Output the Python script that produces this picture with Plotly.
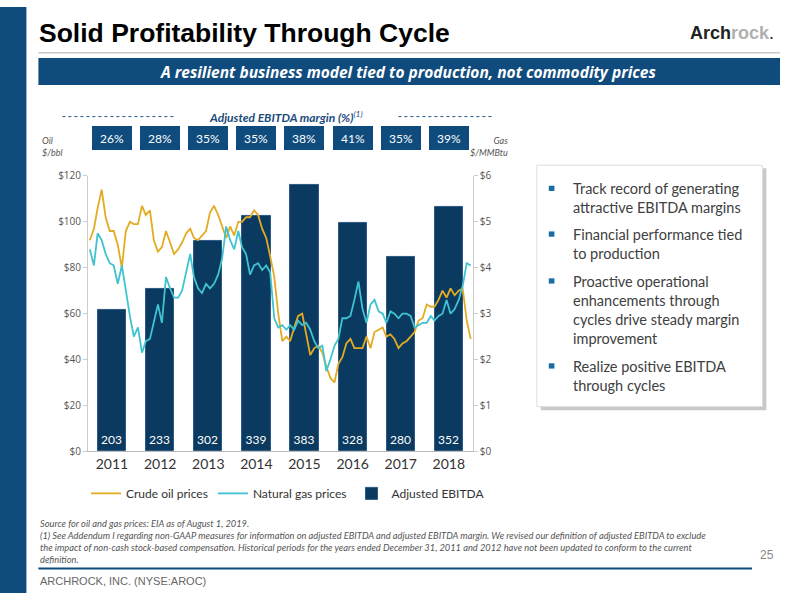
import plotly.graph_objects as go
import pandas as pd

years = [2011, 2012, 2013, 2014, 2015, 2016, 2017, 2018]
ebitda = [203, 233, 302, 339, 383, 328, 280, 352]
margins = ["26%", "28%", "35%", "35%", "38%", "41%", "35%", "39%"]

# monthly prices, Jan 2011 - Dec 2018
oil = [92, 97, 106, 114, 102, 96, 96, 90, 80, 96, 100, 99,
       99, 107, 103, 105, 92, 87, 89, 96, 91, 86, 88, 91,
       95, 97, 93, 92, 94, 96, 104, 107, 103, 98, 93, 98,
       94, 100, 100, 102, 102, 105, 103, 97, 93, 85, 76, 60,
       48, 50, 48, 54, 59, 60, 51, 42, 45, 46, 43, 37,
       32, 30, 38, 41, 47, 49, 45, 45, 45, 50, 45, 52,
       53, 54, 50, 51, 49, 45, 47, 48, 50, 52, 57, 58,
       64, 63, 63, 66, 70, 67, 71, 68, 70, 71, 57, 49]
gas = [4.4, 4.05, 4.75, 4.6, 4.3, 4.1, 4.05, 3.65, 4.05, 3.5, 2.95, 2.5,
       2.7, 2.15, 2.4, 2.45, 2.85, 3.2, 2.8, 3.8, 3.55, 3.35, 3.35, 3.5,
       3.9, 4.3, 3.8, 3.55, 3.45, 3.65, 3.55, 3.65, 3.85, 4.2, 4.9, 4.6,
       4.4, 4.8, 4.45, 4.3, 3.85, 4.05, 4.1, 3.95, 4.05, 3.9, 2.9, 2.7,
       2.75, 2.65, 2.75, 2.65, 2.85, 2.75, 2.8, 2.65, 2.4, 2.25, 2.3, 1.75,
       2.0, 2.3, 2.45, 2.9, 2.9, 2.95, 3.3, 3.7, 3.1, 2.8, 3.2, 3.3,
       3.05, 3.0, 2.8, 3.05, 3.0, 2.9, 3.0, 3.0, 2.95, 2.7, 2.75, 2.8,
       2.8, 2.95, 2.85, 2.95, 3.0, 3.3, 3.0, 3.1, 3.3, 3.6, 4.1, 4.05]

months = pd.date_range("2011-01-01", periods=len(oil), freq="MS") + pd.Timedelta(days=14)
bar_x = [pd.Timestamp(f"{y}-07-02") for y in years]

NAVY = "#0b3a60"
GOLD = "#e3ab22"
TEAL = "#3fc3cf"
BLUE = "#0f4c7d"

fig = go.Figure()
fig.add_trace(go.Bar(
    x=bar_x, y=ebitda, name="Adjusted EBITDA", legendrank=3,
    width=215 * 86400000, marker=dict(color=NAVY, line=dict(color="#2a5a85", width=1)),
    text=[str(v) for v in ebitda], textposition="inside", insidetextanchor="start",
    textfont=dict(color="white", size=12, family="Lato"), textangle=0,
))
fig.add_trace(go.Scatter(x=months, y=oil, name="Crude oil prices", mode="lines",
                         yaxis="y2", legendrank=1, line=dict(color=GOLD, width=1.8)))
fig.add_trace(go.Scatter(x=months, y=gas, name="Natural gas prices", mode="lines",
                         yaxis="y3", legendrank=2, line=dict(color=TEAL, width=1.8)))

tickfont = dict(family="Open Sans", size=10, color="#555555")
fig.update_layout(
    width=800, height=600, autosize=False,
    margin=dict(l=0, r=0, t=0, b=0),
    paper_bgcolor="white", plot_bgcolor="rgba(0,0,0,0)", bargap=0,
    font=dict(family="Lato"),
    xaxis=dict(domain=[0.11, 0.591], range=["2011-01-01", "2018-12-31"],
               tickvals=bar_x, ticktext=[str(y) for y in years],
               tickfont=dict(family="Lato", size=14, color="#333333"),
               showline=True, linecolor="#bbbbbb", showgrid=False, ticks=""),
    yaxis=dict(domain=[0.2417, 0.7117], range=[0, 396], visible=False),
    yaxis2=dict(overlaying="y", side="left", range=[0, 120], dtick=20, tickprefix="$",
                tickfont=tickfont, showline=True, linecolor="#cccccc", showgrid=False,
                ticks="outside", ticklen=4, tickcolor="#cccccc", zeroline=False),
    yaxis3=dict(overlaying="y", side="right", range=[0, 6], dtick=1, tickprefix="$",
                tickfont=tickfont, showline=True, linecolor="#cccccc", showgrid=False,
                ticks="outside", ticklen=4, tickcolor="#cccccc", zeroline=False),
    legend=dict(orientation="h", x=0.36, y=0.17, xanchor="center", yanchor="middle",
                font=dict(family="Lato", size=12, color="#333333")),
)

# slide decoration
shapes = [
    dict(type="rect", x0=0, x1=0.033, y0=0, y1=1, fillcolor="#0f4c7d", line_width=0),
    dict(type="line", x0=0.048, x1=0.975, y0=0.922, y1=0.922,
         line=dict(color="#c8c8c8", width=1.5)),
    dict(type="rect", x0=0.048, x1=0.975, y0=0.867, y1=0.913, fillcolor=BLUE, line_width=0),
    dict(type="line", x0=0.078, x1=0.218, y0=0.813, y1=0.813,
         line=dict(color="#1f5a8c", width=1, dash="dot")),
    dict(type="line", x0=0.498, x1=0.616, y0=0.813, y1=0.813,
         line=dict(color="#1f5a8c", width=1, dash="dot")),
    dict(type="rect", x0=0.676, x1=0.958, y0=0.312, y1=0.725, fillcolor="#c9c9c9", line_width=0),
    dict(type="rect", x0=0.671, x1=0.953, y0=0.318, y1=0.73,
         fillcolor="white", line=dict(color="#dddddd", width=1)),
    dict(type="line", x0=0.048, x1=0.94, y0=0.042, y1=0.042,
         line=dict(color="#0f4c7d", width=2)),
]
anns = [
    dict(x=0.046, y=0.955, text="<b>Solid Profitability Through Cycle</b>", xanchor="left",
         font=dict(family="Liberation Sans", size=26.5, color="black")),
    dict(x=0.97, y=0.955, text="<b>Arch<span style='color:#b0b0b0'>rock</span></b>.",
         xanchor="right", font=dict(family="Liberation Sans", size=18, color="#222222")),
    dict(x=0.51, y=0.889, text="<b><i>A resilient business model tied to production, not commodity prices</i></b>",
         font=dict(family="Open Sans", size=15.5, color="white")),
    dict(x=0.357, y=0.813, text="<b><i>Adjusted EBITDA margin (%)</i></b><sup><i>(1)</i></sup>",
         font=dict(family="Lato", size=12, color="#1a4c7c")),
    dict(x=0.05, y=0.762, text="<i>Oil<br>$/bbl</i>", xanchor="left", align="left",
         font=dict(family="Lato", size=9, color="#555555")),
    dict(x=0.638, y=0.762, text="<i>Gas<br>$/MMBtu</i>", xanchor="right", align="right",
         font=dict(family="Lato", size=9, color="#555555")),
]
for bx, m in zip(bar_x, margins):
    anns.append(dict(x=bx, xref="x", y=0.777, text=m, bgcolor=BLUE, borderpad=4,
                     bordercolor=BLUE, font=dict(family="Lato", size=12, color="white"),
                     width=30, height=14))

bullets = [
    (0.708, "Track record of generating<br>attractive EBITDA margins"),
    (0.630, "Financial performance tied<br>to production"),
    (0.550, "Proactive operational<br>enhancements through<br>cycles drive steady margin<br>improvement"),
    (0.405, "Realize positive EBITDA<br>through cycles"),
]
for yy, txt in bullets:
    anns.append(dict(x=0.714, y=yy, text=txt, xanchor="left", yanchor="top", align="left",
                     font=dict(family="Lato", size=14.5, color="#404040")))
    shapes.append(dict(type="rect", x0=0.686, x1=0.693,
                       y0=yy - 0.022, y1=yy - 0.013, fillcolor="#1a6aa6", line_width=0))
for s in shapes:
    s["xref"] = "paper"
    s["yref"] = "paper"
    s["layer"] = "below"

anns += [
    dict(x=0.048, y=0.132, xanchor="left", yanchor="top", align="left",
         text="<i>Source for oil and gas prices: EIA as of August 1, 2019.<br>"
              "(1) See Addendum I regarding non-GAAP measures for information on adjusted EBITDA and adjusted EBITDA margin. We revised our definition of adjusted EBITDA to exclude<br>"
              "the impact of non-cash stock-based compensation. Historical periods for the years ended December 31, 2011 and 2012 have not been updated to conform to the current<br>"
              "definition.</i>",
         font=dict(family="Lato", size=9.3, color="#555555")),
    dict(x=0.97, y=0.05, text="25", xanchor="right", yanchor="bottom",
         font=dict(family="Liberation Sans", size=12, color="#888888")),
    dict(x=0.048, y=0.02, text="ARCHROCK, INC. (NYSE:AROC)", xanchor="left",
         font=dict(family="Liberation Sans", size=11, color="#666666")),
]
for a in anns:
    a.setdefault("xref", "paper")
    a.setdefault("yanchor", "middle")
    a["yref"] = "paper"
    a["showarrow"] = False
fig.update_layout(shapes=shapes, annotations=anns)

fig.write_html("out.html", config={"displayModeBar": False},
               post_script="document.body.style.margin='0';")
